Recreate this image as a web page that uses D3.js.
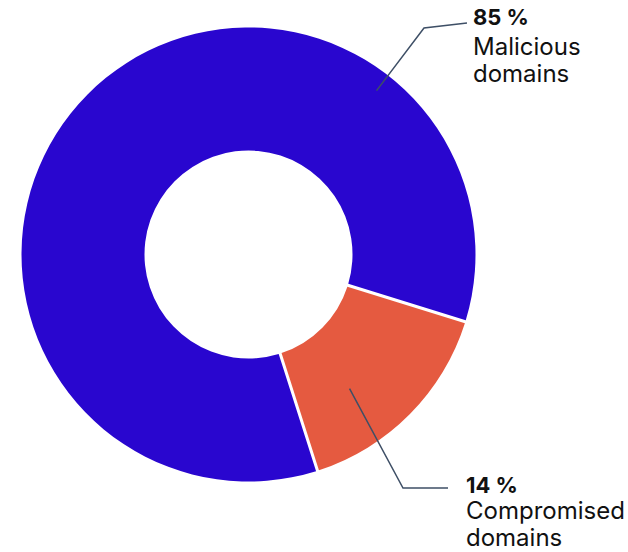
<!DOCTYPE html>
<html>
<head>
<meta charset="utf-8">
<script src="https://cdn.jsdelivr.net/npm/d3@7"></script>
<style>
  body { margin: 0; background: #fff; }
  text { font-family: Inter, "Noto Sans", sans-serif; fill: #111; }
</style>
</head>
<body>
<div id="chart"></div>
<script>
// data
var categories = ["Malicious domains", "Compromised domains"];
var shares = [84.7, 15.3];          // slice sizes as drawn
var labelPct = ["85 %", "14 %"];     // printed labels
var labelLines = [["Malicious", "domains"], ["Compromised", "domains"]];
var colors = ["#2906CF", "#E55A40"];

var svgWidth = 628;
var svgHeight = 552;
var cx = 248.5, cy = 254.5;
var outerR = 227, innerR = 104;

var svg = d3.select("#chart")
  .append("svg")
  .attr("width", svgWidth)
  .attr("height", svgHeight);

var g = svg.append("g")
  .attr("transform", `translate(${cx}, ${cy})`);

// first slice starts at ~162 degrees (clockwise from top)
var start = 162.3 * Math.PI / 180;
var pie = d3.pie()
  .sort(null)
  .value(d => d)
  .startAngle(start)
  .endAngle(start + 2 * Math.PI);

var arc = d3.arc()
  .innerRadius(innerR)
  .outerRadius(outerR)
  .padAngle(0.012)
  .padRadius(250);

var arcs = pie(shares);

g.selectAll("path.slice")
  .data(arcs)
  .enter()
  .append("path")
  .attr("class", "slice")
  .attr("d", arc)
  .attr("fill", (d, i) => colors[i]);

// label layout: where the leader starts inside the slice (fraction of slice, radius)
// and where the text block sits
var labelLayout = [
  { frac: 0.773, r: 208, x: 473, y: 25, elbow: [424, 28], end: [467, 23], gaps: [30, 27] },
  { frac: 0.65, r: 168, x: 466, y: 493, elbow: [403, 488], end: [448, 488], gaps: [26, 27] }
];

arcs.forEach(function(a, i) {
  var L = labelLayout[i];
  var ang = a.startAngle + (a.endAngle - a.startAngle) * L.frac;
  var ax = cx + L.r * Math.sin(ang);
  var ay = cy - L.r * Math.cos(ang);

  svg.append("polyline")
    .attr("points", [[ax, ay], L.elbow, L.end].map(p => p.join(",")).join(" "))
    .attr("fill", "none")
    .attr("stroke", "#3E4F66")
    .attr("stroke-width", 1.5);

  var t = svg.append("text")
    .attr("x", L.x)
    .attr("y", L.y);

  t.append("tspan")
    .attr("x", L.x)
    .style("font-weight", 700)
    .style("font-size", "22px")
    .text(labelPct[i]);

  labelLines[i].forEach(function(line, j) {
    t.append("tspan")
      .attr("x", L.x)
      .attr("dy", L.gaps[j])
      .style("font-size", "24px")
      .text(line);
  });
});
</script>
</body>
</html>
